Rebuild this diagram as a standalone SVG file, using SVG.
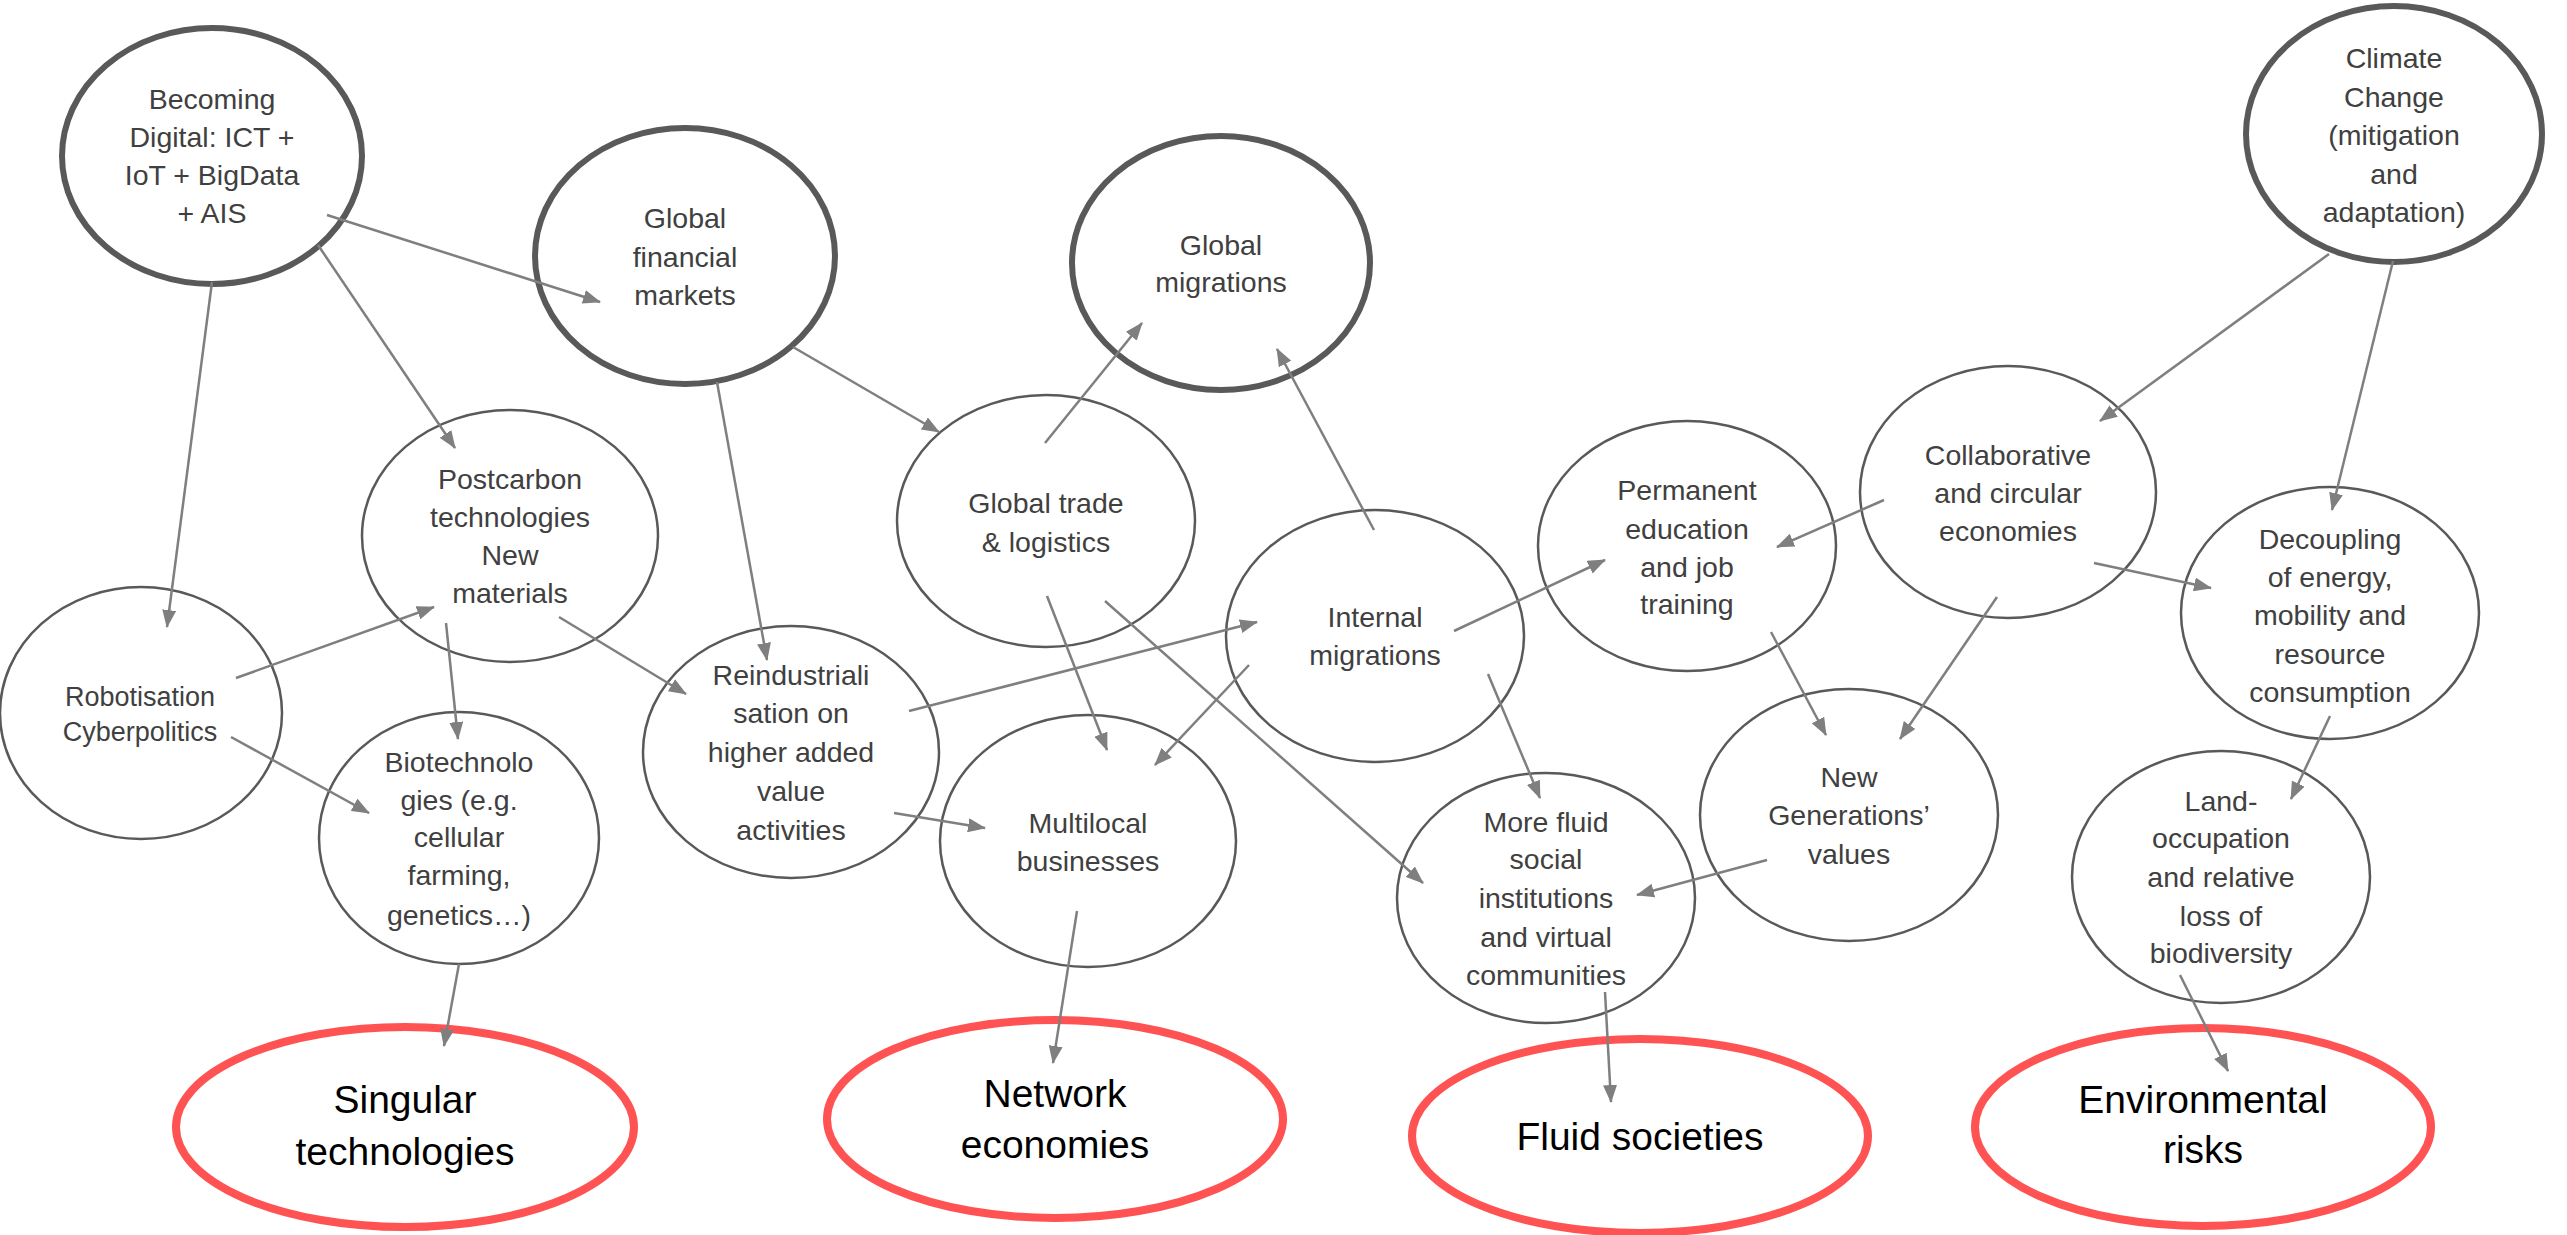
<svg xmlns="http://www.w3.org/2000/svg" width="2567" height="1235" viewBox="0 0 2567 1235">
<style>
.bg{fill:#ffffff}
.thick{fill:#ffffff;stroke:#595959;stroke-width:6}
.thin{fill:#ffffff;stroke:#595959;stroke-width:2.5}
.red{fill:#ffffff;stroke:#FF5353;stroke-width:8}
.t{font-family:"Liberation Sans",Arial,sans-serif;font-size:28.5px;fill:#404040;text-anchor:middle}
.ts{font-family:"Liberation Sans",Arial,sans-serif;font-size:27px;fill:#404040;text-anchor:middle}
.tr{font-family:"Liberation Sans",Arial,sans-serif;font-size:39px;fill:#000000;text-anchor:middle}
.c line{stroke:#7F7F7F;stroke-width:2.5;fill:none;marker-end:url(#ah)}
</style>
<defs>
<marker id="ah" markerUnits="userSpaceOnUse" markerWidth="18" markerHeight="14" viewBox="0 0 18 14" refX="17" refY="7" orient="auto">
<path d="M0,0 L18,7 L0,14 z" fill="#7F7F7F"/>
</marker>
</defs>
<rect class="bg" x="0" y="0" width="2567" height="1235"/>

<g id="n-digital"><ellipse class="thick" cx="212" cy="156" rx="150" ry="128"/>
<text class="t"><tspan x="212" y="109">Becoming</tspan><tspan x="212" y="147">Digital: ICT +</tspan><tspan x="212" y="185">IoT + BigData</tspan><tspan x="212" y="223">+ AIS</tspan></text></g>

<g id="n-finance"><ellipse class="thick" cx="685" cy="256" rx="150" ry="128"/>
<text class="t"><tspan x="685" y="228">Global</tspan><tspan x="685" y="267">financial</tspan><tspan x="685" y="305">markets</tspan></text></g>

<g id="n-migrations"><ellipse class="thick" cx="1221" cy="263" rx="149" ry="127"/>
<text class="t"><tspan x="1221" y="255">Global</tspan><tspan x="1221" y="292">migrations</tspan></text></g>

<g id="n-climate"><ellipse class="thick" cx="2394" cy="134" rx="148" ry="128"/>
<text class="t"><tspan x="2394" y="68">Climate</tspan><tspan x="2394" y="107">Change</tspan><tspan x="2394" y="145">(mitigation</tspan><tspan x="2394" y="184">and</tspan><tspan x="2394" y="222">adaptation)</tspan></text></g>

<g id="n-postcarbon"><ellipse class="thin" cx="510" cy="536" rx="148" ry="126"/>
<text class="t"><tspan x="510" y="489">Postcarbon</tspan><tspan x="510" y="527">technologies</tspan><tspan x="510" y="565">New</tspan><tspan x="510" y="603">materials</tspan></text></g>

<g id="n-trade"><ellipse class="thin" cx="1046" cy="521" rx="149" ry="126"/>
<text class="t"><tspan x="1046" y="513">Global trade</tspan><tspan x="1046" y="552">&amp; logistics</tspan></text></g>

<g id="n-robot"><ellipse class="thin" cx="141" cy="713" rx="141" ry="126"/>
<text class="ts"><tspan x="140" y="706">Robotisation</tspan><tspan x="140" y="741">Cyberpolitics</tspan></text></g>

<g id="n-reind"><ellipse class="thin" cx="791" cy="752" rx="148" ry="126"/>
<text class="t"><tspan x="791" y="685">Reindustriali</tspan><tspan x="791" y="723">sation on</tspan><tspan x="791" y="762">higher added</tspan><tspan x="791" y="801">value</tspan><tspan x="791" y="840">activities</tspan></text></g>

<g id="n-bio"><ellipse class="thin" cx="459" cy="838" rx="140" ry="126"/>
<text class="t"><tspan x="459" y="772">Biotechnolo</tspan><tspan x="459" y="810">gies (e.g.</tspan><tspan x="459" y="847">cellular</tspan><tspan x="459" y="885">farming,</tspan><tspan x="459" y="925">genetics…)</tspan></text></g>

<g id="n-internal"><ellipse class="thin" cx="1375" cy="636" rx="149" ry="126"/>
<text class="t"><tspan x="1375" y="627">Internal</tspan><tspan x="1375" y="665">migrations</tspan></text></g>

<g id="n-permanent"><ellipse class="thin" cx="1687" cy="546" rx="149" ry="125"/>
<text class="t"><tspan x="1687" y="500">Permanent</tspan><tspan x="1687" y="539">education</tspan><tspan x="1687" y="577">and job</tspan><tspan x="1687" y="614">training</tspan></text></g>

<g id="n-collab"><ellipse class="thin" cx="2008" cy="492" rx="148" ry="126"/>
<text class="t"><tspan x="2008" y="465">Collaborative</tspan><tspan x="2008" y="503">and circular</tspan><tspan x="2008" y="541">economies</tspan></text></g>

<g id="n-decoupling"><ellipse class="thin" cx="2330" cy="613" rx="149" ry="126"/>
<text class="t"><tspan x="2330" y="549">Decoupling</tspan><tspan x="2330" y="587">of energy,</tspan><tspan x="2330" y="625">mobility and</tspan><tspan x="2330" y="664">resource</tspan><tspan x="2330" y="702">consumption</tspan></text></g>

<g id="n-multilocal"><ellipse class="thin" cx="1088" cy="841" rx="148" ry="126"/>
<text class="t"><tspan x="1088" y="833">Multilocal</tspan><tspan x="1088" y="871">businesses</tspan></text></g>

<g id="n-newgen"><ellipse class="thin" cx="1849" cy="815" rx="149" ry="126"/>
<text class="t"><tspan x="1849" y="787">New</tspan><tspan x="1849" y="825">Generations’</tspan><tspan x="1849" y="864">values</tspan></text></g>

<g id="n-morefluid"><ellipse class="thin" cx="1546" cy="898" rx="149" ry="125"/>
<text class="t"><tspan x="1546" y="832">More fluid</tspan><tspan x="1546" y="869">social</tspan><tspan x="1546" y="908">institutions</tspan><tspan x="1546" y="947">and virtual</tspan><tspan x="1546" y="985">communities</tspan></text></g>

<g id="n-land"><ellipse class="thin" cx="2221" cy="877" rx="149" ry="126"/>
<text class="t"><tspan x="2221" y="811">Land-</tspan><tspan x="2221" y="848">occupation</tspan><tspan x="2221" y="887">and relative</tspan><tspan x="2221" y="926">loss of</tspan><tspan x="2221" y="963">biodiversity</tspan></text></g>

<g id="r-singular"><ellipse class="red" cx="405" cy="1127" rx="229" ry="100"/>
<text class="tr"><tspan x="405" y="1113">Singular</tspan><tspan x="405" y="1165">technologies</tspan></text></g>

<g id="r-network"><ellipse class="red" cx="1055" cy="1119" rx="228" ry="99"/>
<text class="tr"><tspan x="1055" y="1107">Network</tspan><tspan x="1055" y="1158">economies</tspan></text></g>

<g id="r-fluid"><ellipse class="red" cx="1640" cy="1136" rx="228" ry="97"/>
<text class="tr"><tspan x="1640" y="1150">Fluid societies</tspan></text></g>

<g id="r-env"><ellipse class="red" cx="2203" cy="1127" rx="228" ry="99"/>
<text class="tr"><tspan x="2203" y="1113">Environmental</tspan><tspan x="2203" y="1163">risks</tspan></text></g>

<g id="connectors" class="c">
<line x1="327" y1="215" x2="600" y2="302"/>
<line x1="318" y1="245" x2="455" y2="448"/>
<line x1="212" y1="282" x2="167" y2="627"/>
<line x1="236" y1="678" x2="434" y2="607"/>
<line x1="231" y1="737" x2="369" y2="813"/>
<line x1="446" y1="623" x2="458" y2="739"/>
<line x1="559" y1="617" x2="686" y2="694"/>
<line x1="717" y1="382" x2="767" y2="660"/>
<line x1="793" y1="347" x2="939" y2="432"/>
<line x1="1045" y1="443" x2="1142" y2="323"/>
<line x1="909" y1="711" x2="1257" y2="622"/>
<line x1="894" y1="813" x2="985" y2="828"/>
<line x1="1047" y1="596" x2="1107" y2="750"/>
<line x1="1249" y1="665" x2="1155" y2="765"/>
<line x1="1105" y1="601" x2="1423" y2="883"/>
<line x1="1488" y1="674" x2="1540" y2="798"/>
<line x1="1454" y1="631" x2="1605" y2="560"/>
<line x1="1374" y1="530" x2="1277" y2="349"/>
<line x1="1771" y1="632" x2="1826" y2="735"/>
<line x1="1884" y1="500" x2="1777" y2="547"/>
<line x1="1997" y1="597" x2="1900" y2="739"/>
<line x1="2094" y1="563" x2="2211" y2="588"/>
<line x1="2329" y1="254" x2="2100" y2="421"/>
<line x1="2393" y1="261" x2="2332" y2="510"/>
<line x1="2330" y1="716" x2="2291" y2="799"/>
<line x1="1767" y1="860" x2="1637" y2="895"/>
<line x1="2180" y1="975" x2="2228" y2="1071"/>
<line x1="1605" y1="992" x2="1611" y2="1102"/>
<line x1="1077" y1="911" x2="1053" y2="1063"/>
<line x1="459" y1="964" x2="444" y2="1046"/>
</g>
</svg>
